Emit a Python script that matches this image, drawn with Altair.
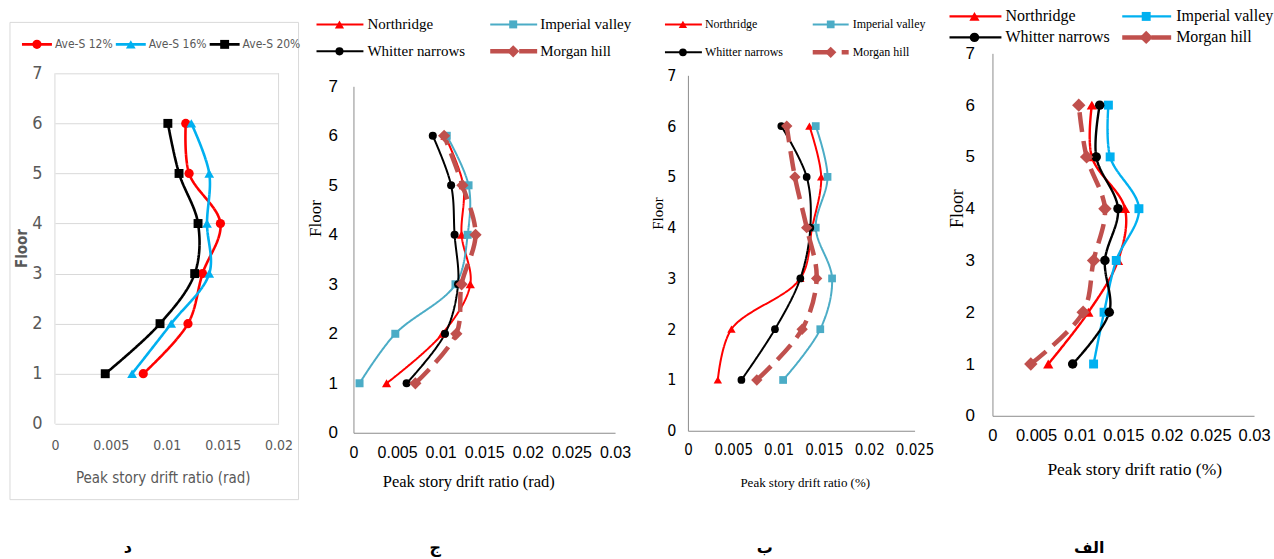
import altair as alt
import pandas as pd

floors = [1, 2, 3, 4, 5, 6]

# ---- Panel د : average spectra ----
ave_names = ["Ave-S 12%", "Ave-S 16%", "Ave-S 20%"]
ave_s12 = [0.0079, 0.0119, 0.0132, 0.0148, 0.0120, 0.0117]
ave_s16 = [0.0069, 0.0104, 0.0138, 0.0136, 0.0138, 0.0122]
ave_s20 = [0.0045, 0.0094, 0.0125, 0.0128, 0.0111, 0.0101]

# ---- records ----
quake_names = ["Northridge", "Imperial valley", "Whitter narrows", "Morgan hill"]

# Panel ج
j_northridge = [0.0038, 0.0102, 0.0134, 0.0124, 0.0126, 0.0105]
j_imperial = [0.0007, 0.0048, 0.0117, 0.0131, 0.0132, 0.0107]
j_whitter = [0.0061, 0.0105, 0.0120, 0.0116, 0.0112, 0.0091]
j_morgan = [0.0071, 0.0118, 0.0124, 0.0140, 0.0125, 0.0104]

# Panel ب
b_northridge = [0.0033, 0.0048, 0.0124, 0.0137, 0.0147, 0.0134]
b_imperial = [0.0105, 0.0146, 0.0159, 0.0141, 0.0154, 0.0141]
b_whitter = [0.0059, 0.0096, 0.0124, 0.0135, 0.0131, 0.0103]
b_morgan = [0.0076, 0.0126, 0.0142, 0.0131, 0.0118, 0.0109]

# Panel الف
a_northridge = [0.0064, 0.0110, 0.0144, 0.0152, 0.0114, 0.0114]
a_imperial = [0.0116, 0.0128, 0.0142, 0.0168, 0.0135, 0.0133]
a_whitter = [0.0092, 0.0134, 0.0129, 0.0144, 0.0119, 0.0123]
a_morgan = [0.0044, 0.0104, 0.0116, 0.0129, 0.0108, 0.0099]

panel_labels = ["د", "ج", "ب", "الف"]
x_titles = ["Peak story drift ratio (rad)", "Peak story drift ratio (rad)",
            "Peak story drift ratio (%)", "Peak story drift ratio (%)"]
y_title = "Floor"
ticks_02 = [0, 0.005, 0.01, 0.015, 0.02]
ticks_025 = [0, 0.005, 0.01, 0.015, 0.02, 0.025]
ticks_03 = [0, 0.005, 0.01, 0.015, 0.02, 0.025, 0.03]
y_ticks = [0, 1, 2, 3, 4, 5, 6, 7]

SERIF = "Liberation Serif, Times New Roman, serif"
SANS = "Liberation Sans, Arial, sans-serif"
NARROW = "Liberation Sans Narrow, DejaVu Sans Condensed, Liberation Sans, sans-serif"
ARABIC = "DejaVu Sans, Noto Sans, sans-serif"
DASH = [20, 9]


def make_df(names, series, widths, sizes):
    rows = []
    for n, vals, w, s in zip(names, series, widths, sizes):
        for f, v in zip(floors, vals):
            rows.append({"series": n, "floor": f, "drift": v, "sw": w, "sz": s})
    return pd.DataFrame(rows)


# all panels share the same top (y=53 in the page); yrange places floors 0..7
panels = [
    dict(names=ave_names, values=[ave_s12, ave_s16, ave_s20], label=panel_labels[0],
         w=224, h=371, yrange=[371, 20], cell=(-55, 245, -53, 506), xmax=0.02, xticks=ticks_02,
         colors=["#FF0000", "#00B0F0", "#000000"],
         shapes=["circle", "triangle-up", "square"],
         dashes=[[1, 0], [1, 0], [1, 0]], widths=[2.6, 2.6, 2.6], sizes=[85, 95, 80],
         slots=[(0, 0), (1, 0), (2, 0)],
         legcols=[(-33, -3, -18, 0), (61, 91, 76, 94), (155, 185, 170, 188)], legrows=[-9],
         legfont=NARROW, legsize=12, legcolor="#595959",
         tickfont=NARROW, xlabsize=14, ylabsize=18, labcolor="#595959",
         xtitle=x_titles[0], xtfont=NARROW, xtsize=15, xtcolor="#595959", xtpos=(108, 54),
         ytfont=NARROW, ytsize=15, ytweight="bold", ytpos=(-33, 195),
         xpad=15, ypad=13, grid=True, domain=False,
         labpos=(73, 495), frame=(-45, 244, -31, 447)),
    dict(names=quake_names, values=[j_northridge, j_imperial, j_whitter, j_morgan], label=panel_labels[1],
         w=262, h=380, yrange=[380, 33], cell=(-53, 292, -53, 506), xmax=0.03, xticks=ticks_03,
         colors=["#FF0000", "#4BACC6", "#000000", "#C0504D"],
         shapes=["triangle-up", "square", "circle", "diamond"],
         dashes=[[1, 0], [1, 0], [1, 0], DASH], widths=[2, 2, 2, 4.5], sizes=[85, 64, 65, 150],
         slots=[(0, 0), (1, 0), (0, 1), (1, 1)],
         legcols=[(-37, 10, -14, 14), (137, 184, 160, 187)], legrows=[-29, -2],
         legfont=SERIF, legsize=15, legcolor="#000000",
         tickfont=SANS, xlabsize=16, ylabsize=17, labcolor="#000000",
         xtitle=x_titles[1], xtfont=SERIF, xtsize=16.5, xtcolor="#000000", xtpos=(115, 49),
         ytfont=SERIF, ytsize=17, ytweight="normal", ytpos=(-38, 165),
         xpad=12, ypad=16, grid=False, domain=True,
         labpos=(82, 495), frame=None),
    dict(names=quake_names, values=[b_northridge, b_imperial, b_whitter, b_morgan], label=panel_labels[2],
         w=227, h=378, yrange=[378, 22], cell=(-43, 257, -53, 506), xmax=0.025, xticks=ticks_025,
         colors=["#FF0000", "#4BACC6", "#000000", "#C0504D"],
         shapes=["triangle-up", "square", "circle", "diamond"],
         dashes=[[1, 0], [1, 0], [1, 0], DASH], widths=[2, 2, 2, 4.5], sizes=[70, 60, 60, 130],
         slots=[(0, 0), (1, 0), (0, 1), (1, 1)],
         legcols=[(-23, 14, -5, 17), (125, 161, 143, 165)], legrows=[-29, -1],
         legfont=SERIF, legsize=12, legcolor="#000000",
         tickfont=NARROW, xlabsize=15, ylabsize=16, labcolor="#000000",
         xtitle=x_titles[2], xtfont=SERIF, xtsize=13, xtcolor="#000000", xtpos=(117, 52),
         ytfont=SERIF, ytsize=15, ytweight="normal", ytpos=(-30, 160),
         xpad=12, ypad=12, grid=False, domain=True,
         labpos=(77, 495), frame=None),
    dict(names=quake_names, values=[a_northridge, a_imperial, a_whitter, a_morgan], label=panel_labels[3],
         w=262, h=363, yrange=[363, 0], cell=(-48, 281, -53, 506), xmax=0.03, xticks=ticks_03,
         colors=["#FF0000", "#00B0F0", "#000000", "#C0504D"],
         shapes=["triangle-up", "square", "circle", "diamond"],
         dashes=[[1, 0], [1, 0], [1, 0], DASH], widths=[2.4, 2.4, 2.4, 4.5], sizes=[105, 80, 90, 180],
         slots=[(0, 0), (1, 0), (0, 1), (1, 1)],
         legcols=[(-43, 9, -18, 13), (130, 179, 154, 184)], legrows=[-37, -16],
         legfont=SERIF, legsize=16, legcolor="#000000",
         tickfont=SANS, xlabsize=16.5, ylabsize=17, labcolor="#000000",
         xtitle=x_titles[3], xtfont=SERIF, xtsize=17.5, xtcolor="#000000", xtpos=(142, 54),
         ytfont=SERIF, ytsize=18, ytweight="normal", ytpos=(-35, 155),
         xpad=12, ypad=18, grid=False, domain=True,
         labpos=(97, 495), frame=None),
]


def build_panel(p):
    names = p["names"]
    df = make_df(names, p["values"], p["widths"], p["sizes"])
    color = alt.Color("series:N", scale=alt.Scale(domain=names, range=p["colors"]), legend=None)
    shape = alt.Shape("series:N", scale=alt.Scale(domain=names, range=p["shapes"]), legend=None)
    dash = alt.StrokeDash("series:N", scale=alt.Scale(domain=names, range=p["dashes"]), legend=None)
    sw = alt.StrokeWidth("sw:Q", scale=None, legend=None)
    size = alt.Size("sz:Q", scale=None, legend=None)

    x_axis = alt.Axis(values=p["xticks"], format="~g", title=p["xtitle"],
                      titleFont=p["xtfont"], titleFontSize=p["xtsize"], titleColor=p["xtcolor"],
                      titleFontWeight="normal", titleX=p["xtpos"][0], titleY=p["xtpos"][1],
                      titleAlign="center", titleBaseline="middle",
                      labelFont=p["tickfont"], labelFontSize=p["xlabsize"], labelColor=p["labcolor"],
                      labelPadding=p["xpad"], labelFlush=False, labelOverlap=False, labelBound=False,
                      ticks=False, grid=False, domain=p["domain"], domainColor="#8C8C8C", domainWidth=1)
    y_axis = alt.Axis(values=y_ticks, format="d", title=y_title,
                      titleFont=p["ytfont"], titleFontSize=p["ytsize"], titleColor=p["xtcolor"],
                      titleFontWeight=p["ytweight"], titleX=p["ytpos"][0], titleY=p["ytpos"][1],
                      titleAngle=270, titleAlign="center", titleBaseline="middle",
                      labelFont=p["tickfont"], labelFontSize=p["ylabsize"], labelColor=p["labcolor"],
                      labelPadding=p["ypad"], labelFlush=False, labelOverlap=False,
                      ticks=False, grid=p["grid"], gridColor="#D9D9D9", gridWidth=1,
                      domain=p["domain"], domainColor="#8C8C8C", domainWidth=1)

    xscale = alt.Scale(domain=[0, p["xmax"]], nice=False, zero=True)
    yscale = alt.Scale(domain=[0, 7], nice=False, range=p["yrange"])
    xs = alt.X("drift:Q", scale=xscale, axis=x_axis)
    ys = alt.Y("floor:Q", scale=yscale, axis=y_axis)

    base = alt.Chart(df)
    lines = base.mark_line(interpolate="catmull-rom").encode(
        x=xs, y=ys, order="floor:Q", color=color, strokeDash=dash, strokeWidth=sw)
    points = base.mark_point(filled=True, opacity=1).encode(
        x=alt.X("drift:Q", scale=xscale), y=alt.Y("floor:Q", scale=yscale),
        color=color, shape=shape, size=size)
    data_layers = [lines, points]
    if p["grid"]:
        edges = pd.DataFrame({"edge": [0, p["xmax"]], "lo": [0, 0], "hi": [7, 7]})
        border = alt.Chart(edges).mark_rule(color="#D9D9D9", strokeWidth=1).encode(
            x=alt.X("edge:Q", scale=xscale), y=alt.Y("lo:Q", scale=yscale), y2="hi:Q")
        data_layers = [border] + data_layers
    data_layer = alt.layer(*data_layers)

    # custom legend (layout positions in pixels relative to the plot origin)
    leg_rows = []
    for n, (c, r), w, s in zip(names, p["slots"], p["widths"], p["sizes"]):
        x0, x1, xm, xt = p["legcols"][c]
        leg_rows.append({"series": n, "x0": x0, "x1": x1, "xm": xm, "xt": xt,
                         "y": p["legrows"][r], "sw": w, "sz": s})
    leg = pd.DataFrame(leg_rows)
    ly = alt.Y("y:Q", scale=None, axis=None)
    leg_rule = alt.Chart(leg).mark_rule().encode(
        x=alt.X("x0:Q", scale=None, axis=None), x2="x1:Q", y=ly,
        color=color, strokeDash=dash, strokeWidth=sw)
    leg_pts = alt.Chart(leg).mark_point(filled=True, opacity=1).encode(
        x=alt.X("xm:Q", scale=None, axis=None), y=ly, color=color, shape=shape, size=size)
    leg_txt = alt.Chart(leg).mark_text(align="left", baseline="middle", font=p["legfont"],
                                       fontSize=p["legsize"], color=p["legcolor"]).encode(
        x=alt.X("xt:Q", scale=None, axis=None), y=ly, text="series:N")

    one = pd.DataFrame({"label": [p["label"]]})
    c = p["cell"]
    cell = alt.Chart(one).mark_rect(opacity=0).encode(
        x=alt.value(c[0]), x2=alt.value(c[1]), y=alt.value(c[2]), y2=alt.value(c[3]))
    lab = alt.Chart(one).mark_text(font=ARABIC, fontSize=16, fontWeight="bold", color="#000000",
                                   align="center", baseline="middle").encode(
        x=alt.value(p["labpos"][0]), y=alt.value(p["labpos"][1]), text="label:N")

    layers = [cell]
    if p["frame"] is not None:
        f = p["frame"]
        layers.append(alt.Chart(one).mark_rect(fill="transparent", stroke="#D9D9D9", strokeWidth=1).encode(
            x=alt.value(f[0]), x2=alt.value(f[1]), y=alt.value(f[2]), y2=alt.value(f[3])))
    layers += [data_layer, leg_rule, leg_pts, leg_txt, lab]
    ch = alt.layer(*layers).resolve_scale(x="independent", y="independent").properties(
        width=p["w"], height=p["h"])
    return ch


charts = [build_panel(p) for p in panels]
chart = alt.hconcat(*charts, spacing=0).resolve_scale(
    color="independent", shape="independent", strokeDash="independent"
).properties(padding=0, background="white").configure_view(stroke=None)

chart.save("out.html", embed_options={"renderer": "svg", "actions": False})
